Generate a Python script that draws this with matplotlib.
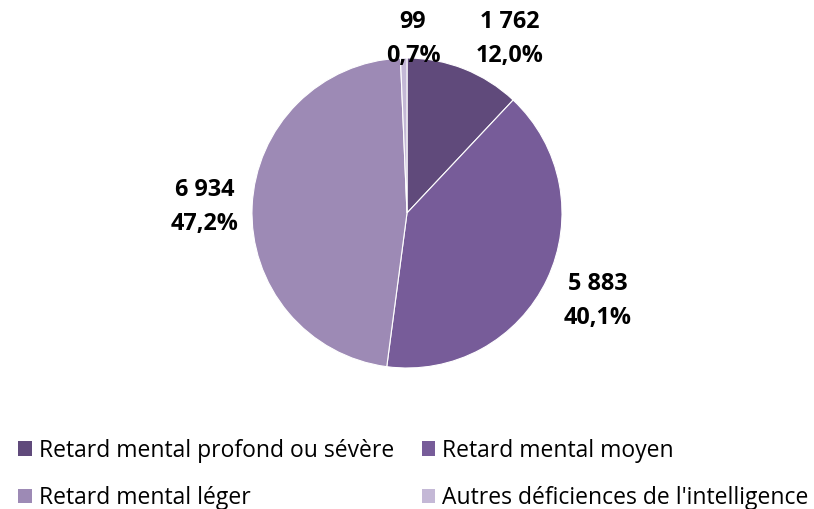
import matplotlib.pyplot as plt
from matplotlib.patches import Patch

plt.rcParams['font.family'] = ['Open Sans', 'DejaVu Sans']

categories = ["Retard mental profond ou sévère", "Retard mental moyen",
              "Retard mental léger", "Autres déficiences de l'intelligence"]
values = [1762, 5883, 6934, 99]
value_labels = ["1 762", "5 883", "6 934", "99"]
pct_labels = ["12,0%", "40,1%", "47,2%", "0,7%"]
colors = ["#604A7B", "#775C99", "#9D8AB5", "#C4B8D6"]

# label anchor positions (pixels from top-left)
label_pos = [(510, 39), (598, 301), (205, 207), (413, 39)]

fig = plt.figure(figsize=(8.14, 5.09), dpi=100)
ax = fig.add_axes([0, 0, 1, 1])

cx, cy, r = 407, 509 - 213, 155
wedges, _ = ax.pie(values, colors=colors, startangle=90, counterclock=False,
                   center=(cx, cy), radius=r, frame=True,
                   wedgeprops=dict(edgecolor='white', linewidth=0.8))
ax.set_xlim(0, 814)
ax.set_ylim(0, 509)
ax.axis('off')

for (x, y), v, p in zip(label_pos, value_labels, pct_labels):
    ax.text(x, 509 - y, v + "\n" + p, ha='center', va='center',
            fontsize=16.8, fontweight='bold', linespacing=1.6)

# legend is filled row by row in the reference
order = [0, 2, 1, 3]
handles = [Patch(facecolor=colors[i], edgecolor='none') for i in order]
labels = [categories[i] for i in order]
ax.legend(handles, labels, ncol=2, loc='upper left',
          bbox_to_anchor=(0.0, 0.174), frameon=False, fontsize=16.5,
          handlelength=0.6, handleheight=0.6, handletextpad=0.3,
          columnspacing=1.2, labelspacing=1.02, borderaxespad=0.4)

fig.savefig("out.png", dpi=100)
